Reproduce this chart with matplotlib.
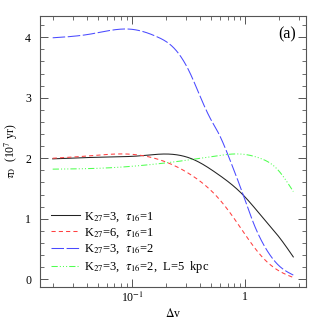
import numpy as np
import matplotlib
matplotlib.use("Agg")
import matplotlib.pyplot as plt
from matplotlib.ticker import FixedLocator, NullFormatter, FixedFormatter

plt.rcParams['font.family'] = ['Liberation Serif', 'DejaVu Serif']
plt.rcParams['mathtext.fontset'] = 'stix'

# Data
x_black = [0.02, 0.06, 0.118, 0.2, 0.348, 0.56, 0.96, 1.44, 2.02, 2.65]
y_black = [1.99, 2.02, 2.04, 2.07, 1.98, 1.75, 1.39, 1.01, 0.68, 0.37]

x_red = [0.02, 0.0426, 0.0898, 0.165, 0.248, 0.348, 0.56, 0.78, 1.03, 1.44, 2.02, 2.65]
y_red = [2.00, 2.04, 2.07, 1.99, 1.86, 1.70, 1.37, 1.03, 0.70, 0.35, 0.13, 0.03]

x_blue = [0.02, 0.0426, 0.1, 0.165, 0.232, 0.325, 0.4, 0.5, 0.578, 0.733, 0.96, 1.18, 1.55, 2.02, 2.65]
y_blue = [3.99, 4.05, 4.13, 4.01, 3.83, 3.41, 3.02, 2.63, 2.42, 1.97, 1.39, 0.93, 0.48, 0.21, 0.07]

x_green = [0.02, 0.06, 0.154, 0.284, 0.56, 0.90, 1.35, 1.89, 2.65]
y_green = [1.82, 1.84, 1.90, 1.96, 2.04, 2.07, 2.00, 1.83, 1.45]

labels = [r'K$_{27}$=3,  $\tau_{16}$=1',
          r'K$_{27}$=6,  $\tau_{16}$=1',
          r'K$_{27}$=3,  $\tau_{16}$=2',
          r'K$_{27}$=3,  $\tau_{16}$=2,  L=5  kpc']


def smooth(xs, ys, n=400):
    """Natural cubic spline through the points, in log-x."""
    x = np.log10(xs)
    y = np.asarray(ys, float)
    m = len(x)
    h = np.diff(x)
    A = np.zeros((m, m))
    b = np.zeros(m)
    A[0, 0] = A[-1, -1] = 1.0
    for i in range(1, m - 1):
        A[i, i - 1] = h[i - 1]
        A[i, i] = 2 * (h[i - 1] + h[i])
        A[i, i + 1] = h[i]
        b[i] = 6 * ((y[i + 1] - y[i]) / h[i] - (y[i] - y[i - 1]) / h[i - 1])
    M = np.linalg.solve(A, b)
    t = np.linspace(x[0], x[-1], n)
    idx = np.clip(np.searchsorted(x, t) - 1, 0, m - 2)
    x0, x1 = x[idx], x[idx + 1]
    hh = x1 - x0
    a = (x1 - t) / hh
    bb = (t - x0) / hh
    yt = (a * y[idx] + bb * y[idx + 1]
          + ((a ** 3 - a) * M[idx] + (bb ** 3 - bb) * M[idx + 1]) * hh ** 2 / 6)
    return 10 ** t, yt


fig = plt.figure(figsize=(3.22, 3.22), dpi=100)
ax = fig.add_axes([39.5 / 322, 1 - 287 / 322, (306 - 39.5) / 322, (287 - 16) / 322])

series = [
    (x_black, y_black, '#222222', '-'),
    (x_red, y_red, '#ff4040', (0, (4, 3))),
    (x_blue, y_blue, '#4a4aff', (0, (12, 2.5))),
    (x_green, y_green, '#50ff50', (0, (6, 2, 1, 2, 1, 2, 1, 2))),
]
for (xs, ys, c, ls), lab in zip(series, labels):
    sx, sy = smooth(xs, ys)
    ax.plot(sx, sy, color=c, linestyle=ls, linewidth=0.75, label=lab)

ax.set_xscale('log')
ax.set_xlim(0.0153, 3.43)
ax.set_ylim(-0.127, 4.35)

ax.xaxis.set_major_locator(FixedLocator([0.1, 1]))
ax.xaxis.set_major_formatter(FixedFormatter([r'10$^{-1}$', '1']))
minors = [k * 10.0 ** e for e in (-2, -1, 0) for k in range(2, 10)]
ax.xaxis.set_minor_locator(FixedLocator(minors))
ax.xaxis.set_minor_formatter(NullFormatter())
ax.yaxis.set_major_locator(FixedLocator([0, 1, 2, 3, 4]))
ax.yaxis.set_minor_locator(FixedLocator(np.arange(0, 4.4, 0.2)))

ax.tick_params(which='both', direction='in', top=True, right=True, color='#555555', labelsize=8.5)
ax.tick_params(axis='x', pad=3)
ax.tick_params(axis='y', pad=6)
ax.tick_params(which='major', length=6, width=0.7)
ax.tick_params(which='minor', length=3, width=0.6)
for s in ax.spines.values():
    s.set_color('#555555')
    s.set_linewidth(0.8)

ax.set_xlabel(r'$\Delta$v', fontsize=8.5, labelpad=1)
ax.set_ylabel(r'$\tau_{\rm D}$  (10$^7$ yr)', fontsize=8.5, labelpad=4)
ax.text(0.962, 0.962, '(a)', transform=ax.transAxes, ha='right', va='top', fontsize=11.5)

leg = ax.legend(loc='lower left', bbox_to_anchor=(0.0, 0.0), frameon=False, fontsize=9,
                handlelength=2.3, handletextpad=0.35, labelspacing=0.22,
                borderpad=0.4, borderaxespad=0.55)

fig.savefig('out.png', dpi=100)
